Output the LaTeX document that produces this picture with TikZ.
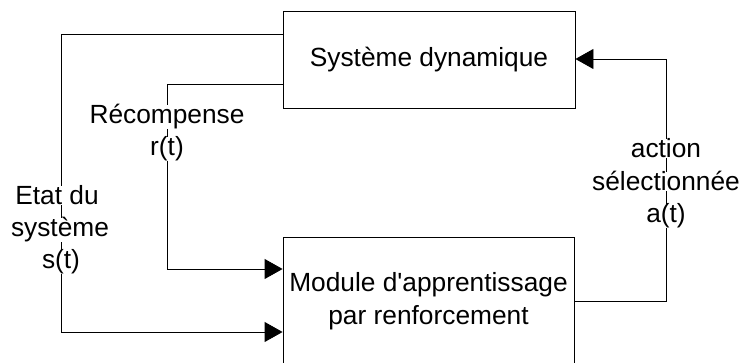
\documentclass[tikz,border=0pt]{standalone}
\usepackage{fontspec}
\setmainfont{Liberation Sans}
\usetikzlibrary{arrows.meta}
\begin{document}
\begin{tikzpicture}[x=1pt,y=-1pt,
  line width=0.9pt,
  boxstyle/.style={draw, line width=0.9pt, inner sep=0pt, align=center},
  lab/.style={font=\fontsize{26.3}{32}\selectfont, fill=white, inner sep=0pt, anchor=base},
  arr/.style={-{Triangle[length=18pt,width=20pt]}}]
\useasboundingbox (0,0) rectangle (740,363);
\clip (0,0) rectangle (740,363);

% boxes
\node[boxstyle, minimum width=292pt, minimum height=97pt] (sys) at (429,59.5) {};
\node[lab, fill=none] (systxt) at (429,67) {Système dynamique};
\node[boxstyle, minimum width=291pt, minimum height=140pt] (mod) at (428.5,307) {};
\node[lab, fill=none] (modtxt1) at (428.5,292) {Module d\textquotesingle apprentissage};
\node[lab, fill=none] (modtxt2) at (428.5,325) {par renforcement};

% corner coordinates
\coordinate (sA) at (61,34);
\coordinate (sB) at (61,332);
\coordinate (rA) at (167,84);
\coordinate (rB) at (167,269);
\coordinate (aA) at (666,301);
\coordinate (aB) at (666,59);

% connectors
\draw[arr] (sys.west |- sA) -- (sA) -- (sB) -- (mod.west |- sB);
\draw[arr] (sys.west |- rA) -- (rA) -- (rB) -- (mod.west |- rB);
\draw[arr] (mod.east |- aA) -- (aA) -- (aB) -- (sys.east |- aB);

% labels
\node[lab] (r1) at (167,124) {Récompense};
\node[lab] (r2) at (167,156) {r(t)};
\node[lab] (s1) at (57,205) {Etat du};
\node[lab] (s2) at (60,237) {système};
\node[lab] (s3) at (61,269) {s(t)};
\node[lab] (a1) at (666,158) {action};
\node[lab] (a2) at (666,191) {sélectionnée};
\node[lab] (a3) at (666,223) {a(t)};
\end{tikzpicture}
\end{document}
